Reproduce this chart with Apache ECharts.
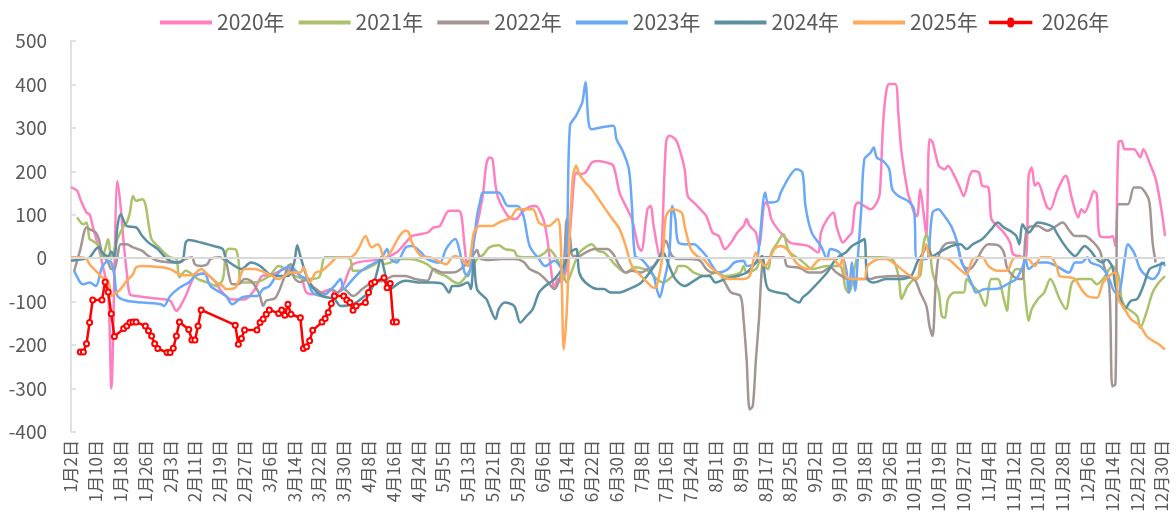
<!DOCTYPE html>
<html><head><meta charset="utf-8">
<script src="https://cdn.jsdelivr.net/npm/echarts@6/dist/echarts.min.js"></script>
<style>html,body{margin:0;padding:0;background:#fff}#c{width:1176px;height:525px}</style>
</head><body><div id="c"></div>
<script>
const FONT = '"Noto Sans CJK SC","Noto Sans",sans-serif';
const monthLengths = [31,29,31,30,31,30,31,31,30,31,30,31];
const skippedDays = ['1月1日','4月4日','5月1日','5月2日','5月3日','10月1日','10月2日','10月3日','10月4日','10月5日','10月6日','10月7日'];
const categories = [];
for (let m = 0; m < 12; m++) for (let d = 1; d <= monthLengths[m]; d++) {
  const s = (m + 1) + '月' + d + '日';
  if (!skippedDays.includes(s)) categories.push(s);
}
const seriesNames = ['2020年','2021年','2022年','2023年','2024年','2025年','2026年'];
const seriesColors = ['#ff80c0','#a9c26b','#a39593','#6aa8f8','#5b90a3','#ffaa5a','#ff0000'];

const s2020 = [['1月2日',163],['1月4日',155],['1月5日',136],['1月7日',105],['1月8日',101],['1月9日',74],['1月11日',21],['1月12日',-10],['1月14日',-80],['1月15日',-300],['1月17日',178],['1月18日',120],['1月19日',36],['1月20日',-33],['1月21日',-83],['1月23日',-87],['1月31日',-94],['2月3日',-98],['2月5日',-121],['2月6日',-114],['2月8日',-87],['2月11日',-40],['2月14日',-35],['2月17日',-50],['2月20日',-80],['2月23日',-95],['2月27日',-95],['3月1日',-75],['3月4日',-40],['3月6日',-40],['3月11日',-25],['3月16日',-40],['3月18日',-79],['3月21日',-83],['3月26日',-71],['3月27日',-87],['3月30日',-60],['4月2日',-14],['4月12日',-2],['4月17日',13],['4月20日',36],['4月22日',51],['4月27日',59],['4月29日',71],['5月4日',74],['5月7日',109],['5月10日',109],['5月11日',97],['5月12日',28],['5月13日',-18],['5月14日',-10],['5月15日',40],['5月17日',110],['5月18日',151],['5月19日',215],['5月20日',232],['5月21日',228],['5月22日',167],['5月23日',136],['5月26日',97],['5月28日',90],['5月29日',92],['5月31日',109],['6月3日',120],['6月4日',120],['6月6日',97],['6月7日',74],['6月8日',28],['6月9日',-33],['6月10日',-71],['6月11日',-48],['6月12日',-55],['6月14日',-20],['6月15日',60],['6月17日',197],['6月18日',194],['6月20日',197],['6月22日',220],['6月24日',224],['6月27日',220],['6月29日',213],['7月1日',151],['7月3日',120],['7月5日',90],['7月7日',28],['7月8日',17],['7月10日',113],['7月11日',120],['7月12日',74],['7月14日',-2],['7月16日',267],['7月17日',282],['7月19日',274],['7月20日',259],['7月22日',205],['7月23日',143],['7月25日',128],['7月27日',113],['7月29日',97],['7月31日',59],['8月2日',51],['8月4日',21],['8月6日',36],['8月8日',59],['8月10日',74],['8月11日',90],['8月12日',74],['8月14日',59],['8月15日',28],['8月17日',128],['8月18日',120],['8月19日',90],['8月21日',67],['8月23日',51],['8月25日',36],['8月28日',32],['8月31日',28],['9月3日',13],['9月4日',59],['9月6日',90],['9月8日',105],['9月9日',74],['9月10日',51],['9月11日',36],['9月13日',51],['9月14日',59],['9月15日',120],['9月16日',128],['9月18日',120],['9月20日',113],['9月22日',128],['9月23日',151],['9月24日',305],['9月25日',382],['9月26日',401],['9月28日',401],['9月29日',328],['9月30日',243],['10月9日',151],['10月10日',128],['10月11日',105],['10月12日',97],['10月13日',159],['10月14日',110],['10月15日',51],['10月16日',274],['10月17日',267],['10月19日',213],['10月21日',205],['10月22日',213],['10月24日',190],['10月26日',159],['10月27日',143],['10月29日',190],['10月30日',201],['11月1日',197],['11月2日',167],['11月4日',163],['11月5日',90],['11月7日',74],['11月9日',59],['11月11日',36],['11月12日',9],['11月14日',5],['11月16日',0],['11月17日',190],['11月18日',209],['11月19日',167],['11月20日',174],['11月22日',136],['11月23日',117],['11月24日',113],['11月26日',151],['11月28日',182],['11月29日',190],['12月1日',136],['12月3日',94],['12月4日',113],['12月5日',105],['12月7日',136],['12月8日',155],['12月9日',147],['12月10日',51],['12月13日',48],['12月14日',51],['12月15日',28],['12月16日',267],['12月17日',270],['12月18日',251],['12月21日',251],['12月23日',232],['12月24日',251],['12月26日',220],['12月28日',182],['12月30日',105],['12月31日',51]];

const s2021 = [['1月4日',94],['1月6日',78],['1月7日',82],['1月8日',44],['1月9日',40],['1月11日',28],['1月12日',-2],['1月13日',20],['1月14日',44],['1月15日',-2],['1月16日',20],['1月17日',44],['1月19日',74],['1月20日',82],['1月21日',105],['1月22日',143],['1月23日',132],['1月25日',136],['1月26日',124],['1月27日',80],['1月28日',44],['1月30日',28],['2月1日',13],['2月3日',2],['2月5日',-2],['2月6日',-44],['2月8日',-29],['2月12日',-48],['2月15日',-56],['2月18日',-64],['2月20日',-48],['2月21日',13],['2月22日',22],['2月24日',21],['2月25日',-2],['2月26日',-56],['3月1日',-56],['3月6日',-41],['3月9日',-18],['3月14日',-40],['3月18日',-48],['3月22日',-44],['3月24日',2],['3月28日',2],['4月1日',-2],['4月2日',-29],['4月5日',-29],['4月10日',-14],['4月12日',-2],['4月13日',-14],['4月15日',-10],['4月18日',-2],['4月21日',-2],['4月27日',-14],['4月30日',-33],['5月6日',-41],['5月8日',-52],['5月10日',-58],['5月14日',-25],['5月16日',-2],['5月18日',8],['5月20日',25],['5月23日',30],['5月25日',21],['5月28日',17],['5月29日',5],['6月1日',2],['6月4日',2],['6月7日',13],['6月8日',21],['6月10日',8],['6月12日',-18],['6月13日',-41],['6月14日',-56],['6月15日',-41],['6月17日',-2],['6月18日',13],['6月20日',25],['6月22日',32],['6月24日',17],['6月26日',13],['6月28日',-2],['6月30日',-18],['7月3日',-33],['7月6日',-21],['7月9日',-25],['7月11日',-33],['7月13日',-48],['7月15日',-56],['7月17日',-48],['7月19日',-33],['7月20日',-18],['7月22日',-18],['7月25日',-33],['7月29日',-41],['8月1日',-33],['8月4日',-41],['8月9日',-33],['8月10日',-18],['8月11日',-33],['8月14日',-25],['8月15日',-10],['8月16日',-2],['8月17日',-18],['8月18日',-25],['8月19日',13],['8月21日',36],['8月22日',48],['8月23日',55],['8月24日',28],['8月25日',13],['8月28日',-2],['8月30日',-14],['9月1日',-25],['9月6日',-18],['9月10日',-18],['9月12日',-71],['9月13日',-79],['9月15日',-18],['9月16日',2],['9月23日',2],['9月27日',-2],['9月29日',-41],['9月30日',-94],['10月8日',-79],['10月9日',-64],['10月11日',-48],['10月13日',-41],['10月14日',28],['10月15日',55],['10月16日',28],['10月17日',-33],['10月19日',-79],['10月20日',-133],['10月21日',-137],['10月22日',-94],['10月24日',-79],['10月27日',-79],['10月28日',-48],['10月30日',-64],['11月1日',-79],['11月3日',-110],['11月5日',-48],['11月7日',-48],['11月9日',-94],['11月10日',-121],['11月11日',-56],['11月13日',-25],['11月15日',-29],['11月16日',-94],['11月17日',-144],['11月18日',-117],['11月20日',-94],['11月22日',-79],['11月24日',-48],['11月27日',-94],['11月29日',-117],['12月1日',-56],['12月3日',-48],['12月7日',-48],['12月9日',-60],['12月11日',-48],['12月13日',-25],['12月14日',-18],['12月16日',-41],['12月17日',-94],['12月18日',-110],['12月22日',-133],['12月23日',-160],['12月25日',-125],['12月27日',-79],['12月29日',-56],['12月31日',-41]];

const s2022 = [['1月3日',-30],['1月5日',20],['1月7日',71],['1月8日',67],['1月10日',59],['1月11日',44],['1月12日',13],['1月14日',-10],['1月15日',-25],['1月16日',-25],['1月17日',5],['1月18日',32],['1月20日',32],['1月22日',25],['1月25日',17],['1月27日',5],['1月30日',-6],['2月5日',-10],['2月8日',-2],['2月10日',2],['2月11日',-14],['2月13日',-18],['2月15日',-14],['2月16日',-2],['2月19日',2],['2月21日',-10],['2月22日',-41],['2月23日',-60],['2月25日',-60],['2月27日',-48],['2月29日',-52],['3月2日',-71],['3月3日',-87],['3月4日',-110],['3月5日',-98],['3月8日',-91],['3月11日',-40],['3月12日',-18],['3月13日',-14],['3月14日',-45],['3月16日',-55],['3月18日',-50],['3月20日',-65],['3月24日',-83],['3月26日',-71],['3月28日',-79],['3月30日',-71],['4月2日',-87],['4月6日',-71],['4月9日',-56],['4月13日',-52],['4月16日',-41],['4月20日',-41],['4月23日',-48],['4月27日',-52],['4月29日',-25],['5月5日',-33],['5月8日',-33],['5月10日',-29],['5月14日',-2],['5月16日',19],['5月17日',0],['5月20日',-4],['5月24日',-2],['5月28日',-2],['5月31日',-8],['6月2日',-25],['6月5日',-35],['6月7日',-48],['6月8日',-56],['6月10日',-71],['6月12日',-41],['6月13日',-18],['6月14日',90],['6月15日',50],['6月16日',5],['6月18日',5],['6月20日',13],['6月23日',21],['6月27日',21],['6月29日',9],['7月1日',-18],['7月3日',-33],['7月5日',-29],['7月8日',-33],['7月10日',-25],['7月12日',-18],['7月14日',5],['7月16日',40],['7月17日',21],['7月18日',5],['7月20日',-2],['7月24日',-2],['7月27日',-6],['7月29日',-25],['7月31日',-33],['8月2日',-33],['8月4日',-56],['8月6日',-79],['8月9日',-87],['8月10日',-140],['8月11日',-233],['8月12日',-348],['8月13日',-340],['8月14日',-233],['8月15日',-140],['8月16日',-18],['8月17日',2],['8月20日',2],['8月23日',2],['8月24日',-18],['8月27日',-21],['8月29日',-25],['8月31日',-33],['9月4日',-33],['9月7日',-21],['9月9日',-33],['9月13日',-48],['9月20日',-48],['9月22日',-44],['9月29日',-41],['10月11日',-48],['10月13日',-79],['10月15日',-110],['10月16日',-156],['10月17日',-179],['10月18日',-60],['10月19日',5],['10月21日',32],['10月24日',36],['10月25日',28],['10月27日',-18],['10月29日',-25],['10月31日',-8],['11月2日',19],['11月4日',32],['11月7日',30],['11月9日',13],['11月10日',-21],['11月12日',-41],['11月14日',-48],['11月15日',-48],['11月16日',51],['11月17日',71],['11月20日',74],['11月23日',63],['11月25日',70],['11月28日',82],['11月30日',65],['12月2日',51],['12月5日',51],['12月8日',36],['12月10日',17],['12月11日',-10],['12月13日',-64],['12月14日',-295],['12月15日',-290],['12月16日',124],['12月19日',124],['12月21日',163],['12月23日',163],['12月25日',147],['12月26日',128],['12月27日',36],['12月28日',-10]];

const s2023 = [['1月3日',-29],['1月5日',-56],['1月6日',-60],['1月8日',-56],['1月10日',-64],['1月12日',-21],['1月14日',-6],['1月15日',-10],['1月16日',-40],['1月17日',-87],['1月20日',-98],['1月25日',-102],['1月31日',-106],['2月1日',-110],['2月3日',-87],['2月6日',-68],['2月9日',-56],['2月11日',-41],['2月14日',-35],['2月16日',-64],['2月21日',-87],['2月23日',-106],['2月26日',-91],['2月29日',-87],['3月2日',-87],['3月4日',-71],['3月6日',-64],['3月9日',-33],['3月12日',-21],['3月14日',-25],['3月16日',-41],['3月18日',-48],['3月20日',-79],['3月23日',-87],['3月27日',-64],['3月29日',-48],['3月30日',-71],['4月1日',-56],['4月5日',-33],['4月8日',-18],['4月12日',-2],['4月14日',21],['4月15日',0],['4月17日',-10],['4月20日',25],['4月22日',28],['4月25日',13],['4月27日',-2],['5月4日',-10],['5月6日',21],['5月9日',44],['5月10日',28],['5月12日',-33],['5月13日',-41],['5月14日',-18],['5月16日',97],['5月17日',130],['5月18日',151],['5月23日',151],['5月26日',120],['5月29日',120],['5月31日',97],['6月2日',28],['6月5日',-2],['6月7日',-18],['6月10日',-6],['6月12日',-21],['6月13日',-33],['6月14日',28],['6月15日',305],['6月17日',328],['6月18日',343],['6月19日',359],['6月20日',405],['6月21日',313],['6月22日',297],['6月25日',301],['6月29日',305],['6月30日',274],['7月2日',247],['7月4日',205],['7月5日',120],['7月6日',5],['7月8日',-2],['7月10日',-18],['7月12日',-41],['7月13日',-71],['7月14日',-90],['7月15日',-64],['7月17日',5],['7月18日',120],['7月19日',90],['7月20日',36],['7月23日',32],['7月25日',32],['7月27日',21],['7月29日',5],['8月2日',-33],['8月5日',-25],['8月7日',-10],['8月10日',-6],['8月11日',-18],['8月14日',-10],['8月15日',28],['8月17日',151],['8月18日',128],['8月21日',132],['8月22日',151],['8月25日',190],['8月27日',205],['8月29日',197],['8月30日',120],['9月1日',59],['9月4日',28],['9月6日',-2],['9月7日',21],['9月10日',13],['9月12日',-20],['9月13日',-79],['9月14日',-10],['9月15日',-75],['9月16日',13],['9月17日',113],['9月18日',228],['9月20日',243],['9月21日',255],['9月22日',232],['9月24日',224],['9月26日',205],['9月27日',159],['9月29日',143],['10月9日',132],['10月11日',113],['10月12日',-2],['10月15日',-2],['10月17日',105],['10月19日',113],['10月20日',105],['10月23日',74],['10月25日',36],['10月26日',-2],['10月28日',-33],['10月30日',-64],['10月31日',-79],['11月3日',-71],['11月6日',-71],['11月8日',-68],['11月11日',-56],['11月13日',-48],['11月15日',-20],['11月16日',-2],['11月17日',-25],['11月20日',-10],['11月23日',-10],['11月26日',-18],['11月30日',-33],['12月2日',-10],['12月4日',-10],['12月6日',2],['12月7日',-10],['12月10日',-18],['12月12日',-33],['12月13日',-48],['12月15日',-79],['12月16日',-79],['12月18日',-2],['12月19日',32],['12月21日',13],['12月23日',-25],['12月25日',-41],['12月27日',-48],['12月29日',-33],['12月30日',-10],['12月31日',-18]];

const s2024 = [['1月2日',-6],['1月6日',-2],['1月8日',2],['1月10日',21],['1月11日',25],['1月12日',13],['1月14日',5],['1月15日',15],['1月16日',5],['1月17日',74],['1月18日',101],['1月20日',74],['1月23日',71],['1月25日',51],['1月27日',36],['1月30日',21],['2月2日',-2],['2月5日',-10],['2月7日',-5],['2月8日',36],['2月9日',42],['2月13日',36],['2月17日',28],['2月20日',21],['2月21日',-2],['2月23日',-14],['2月26日',-25],['2月29日',-10],['3月3日',-18],['3月6日',-37],['3月8日',-41],['3月12日',-41],['3月14日',-10],['3月15日',30],['3月16日',5],['3月18日',-41],['3月20日',-68],['3月23日',-87],['3月27日',-94],['3月29日',-110],['4月2日',-106],['4月6日',-91],['4月9日',-71],['4月11日',-25],['4月12日',2],['4月13日',-25],['4月15日',-71],['4月18日',-56],['4月20日',-52],['4月25日',-56],['4月29日',-56],['5月5日',-60],['5月7日',-79],['5月8日',-64],['5月10日',-64],['5月13日',-56],['5月14日',-71],['5月15日',-2],['5月16日',-71],['5月19日',-94],['5月20日',-110],['5月22日',-140],['5月23日',-117],['5月25日',-102],['5月28日',-110],['5月30日',-148],['6月1日',-133],['6月3日',-117],['6月5日',-79],['6月7日',-64],['6月10日',-48],['6月13日',-18],['6月15日',13],['6月17日',21],['6月18日',-33],['6月20日',-56],['6月24日',-71],['6月26日',-71],['6月28日',-79],['7月1日',-79],['7月4日',-71],['7月8日',-56],['7月13日',-10],['7月15日',13],['7月17日',-18],['7月19日',-48],['7月22日',-64],['7月25日',-52],['7月28日',-41],['7月30日',-41],['8月1日',-56],['8月4日',-48],['8月8日',-41],['8月11日',-33],['8月13日',-18],['8月15日',-2],['8月16日',5],['8月17日',-48],['8月18日',-71],['8月21日',-79],['8月24日',-83],['8月25日',-91],['8月28日',-102],['8月29日',-91],['8月31日',-79],['9月6日',-33],['9月8日',-10],['9月10日',5],['9月12日',13],['9月14日',28],['9月17日',40],['9月18日',44],['9月19日',-48],['9月21日',-56],['9月25日',-48],['9月29日',-48],['10月10日',-41],['10月12日',-10],['10月14日',13],['10月15日',28],['10月17日',5],['10月19日',13],['10月23日',28],['10月26日',32],['10月28日',21],['10月30日',32],['11月2日',44],['11月5日',67],['11月7日',82],['11月9日',71],['11月11日',63],['11月13日',51],['11月14日',32],['11月15日',78],['11月17日',59],['11月20日',82],['11月23日',78],['11月25日',71],['11月26日',59],['11月28日',36],['11月30日',17],['12月2日',5],['12月4日',21],['12月5日',28],['12月7日',17],['12月9日',-2],['12月11日',-10],['12月12日',-2],['12月14日',-20],['12月15日',-64],['12月17日',-102],['12月18日',-117],['12月20日',-98],['12月22日',-94],['12月24日',-64],['12月26日',-25],['12月28日',-18],['12月31日',-10]];

const s2025 = [['1月2日',2],['1月5日',2],['1月7日',-2],['1月8日',-14],['1月10日',-29],['1月12日',-44],['1月14日',-52],['1月15日',-87],['1月16日',-83],['1月18日',-71],['1月20日',-52],['1月22日',-37],['1月23日',-21],['1月25日',-18],['1月31日',-21],['2月3日',-25],['2月5日',-33],['2月7日',-39],['2月10日',-39],['2月13日',-25],['2月15日',-37],['2月18日',-56],['2月20日',-64],['2月21日',-71],['2月24日',-68],['2月27日',-25],['3月1日',-25],['3月7日',-41],['3月9日',-48],['3月13日',-33],['3月16日',-33],['3月17日',-21],['3月19日',-56],['3月21日',-33],['3月23日',-29],['3月26日',-10],['3月28日',2],['4月1日',2],['4月3日',13],['4月5日',25],['4月7日',51],['4月9日',25],['4月11日',32],['4月12日',21],['4月13日',-2],['4月15日',13],['4月18日',51],['4月20日',63],['4月21日',59],['4月22日',36],['4月25日',5],['4月28日',2],['5月4日',-8],['5月6日',-14],['5月8日',2],['5月9日',5],['5月11日',-2],['5月13日',-16],['5月15日',60],['5月16日',71],['5月17日',74],['5月21日',74],['5月23日',82],['5月27日',94],['5月29日',113],['6月3日',113],['6月5日',82],['6月8日',74],['6月11日',90],['6月12日',40],['6月13日',-210],['6月14日',-117],['6月15日',74],['6月16日',190],['6月17日',213],['6月18日',194],['6月20日',174],['6月22日',159],['6月25日',128],['6月28日',97],['7月1日',67],['7月3日',28],['7月5日',-18],['7月8日',-41],['7月10日',-56],['7月12日',-68],['7月13日',-64],['7月15日',13],['7月16日',97],['7月18日',113],['7月21日',105],['7月22日',74],['7月24日',21],['7月26日',5],['7月28日',-2],['7月30日',-18],['8月1日',-30],['8月5日',-48],['8月10日',-48],['8月12日',-41],['8月14日',13],['8月15日',-2],['8月17日',-18],['8月20日',21],['8月22日',28],['8月24日',21],['8月27日',-10],['8月29日',-21],['8月31日',-25],['9月4日',-2],['9月8日',-2],['9月10日',-18],['9月11日',2],['9月12日',-41],['9月15日',-48],['9月18日',-48],['9月19日',-18],['9月23日',-2],['9月25日',-2],['9月28日',-14],['10月9日',-37],['10月12日',-48],['10月13日',-14],['10月15日',32],['10月16日',5],['10月18日',2],['10月22日',-2],['10月25日',-21],['10月27日',-33],['10月28日',-37],['10月30日',-2],['11月2日',2],['11月4日',-18],['11月7日',-29],['11月10日',-29],['11月12日',-2],['11月15日',2],['11月17日',-2],['11月19日',-18],['11月21日',2],['11月24日',2],['11月26日',-18],['11月27日',-41],['11月30日',-44],['12月2日',-48],['12月4日',-71],['12月6日',-87],['12月9日',-91],['12月11日',-56],['12月13日',-41],['12月15日',-33],['12月16日',-94],['12月18日',-117],['12月20日',-140],['12月23日',-156],['12月25日',-179],['12月27日',-190],['12月29日',-198],['12月31日',-210]];

const s2026 = [['1月5日',-216],['1月6日',-216],['1月7日',-197],['1月8日',-148],['1月9日',-96],['1月12日',-96],['1月13日',-55],['1月14日',-78],['1月15日',-128],['1月16日',-180],['1月19日',-162],['1月20日',-156],['1月21日',-148],['1月22日',-147],['1月23日',-147],['1月26日',-156],['1月27日',-167],['1月28日',-179],['1月29日',-197],['1月30日',-208],['2月2日',-217],['2月3日',-217],['2月4日',-207],['2月5日',-179],['2月6日',-147],['2月9日',-164],['2月10日',-188],['2月11日',-188],['2月12日',-156],['2月13日',-119],['2月24日',-154],['2月25日',-198],['2月26日',-185],['2月27日',-165],['3月2日',-165],['3月3日',-148],['3月4日',-140],['3月5日',-129],['3月6日',-119],['3月9日',-127],['3月10日',-119],['3月11日',-131],['3月12日',-106],['3月13日',-129],['3月16日',-137],['3月17日',-208],['3月18日',-204],['3月19日',-190],['3月20日',-166],['3月23日',-147],['3月24日',-139],['3月25日',-125],['3月26日',-104],['3月27日',-87],['3月30日',-87],['3月31日',-96],['4月1日',-102],['4月2日',-120],['4月3日',-110],['4月7日',-102],['4月8日',-79],['4月9日',-58],['4月10日',-55],['4月13日',-45],['4月14日',-68],['4月15日',-58],['4月16日',-147],['4月17日',-147]];

const allData = [s2020, s2021, s2022, s2023, s2024, s2025, s2026];

const series = allData.map((d, k) => {
  const isLast = k === allData.length - 1;
  const s = {
    name: seriesNames[k],
    type: 'line',
    data: d,
    smooth: isLast ? false : 0.3,
    symbol: isLast ? 'emptyCircle' : 'none',
    symbolSize: 5,
    showSymbol: isLast,
    showAllSymbol: true,
    lineStyle: { width: 2.5, color: seriesColors[k] },
    itemStyle: { color: seriesColors[k], borderWidth: 1.5 },
    z: isLast ? 5 : 2,
    emphasis: { disabled: true }
  };
  if (k === 0) {
    s.markLine = {
      silent: true, symbol: ['none', 'none'], label: { show: false },
      lineStyle: { color: '#d9d9d9', width: 2, type: 'solid' },
      emphasis: { disabled: true },
      data: [{ yAxis: 0 }]
    };
  }
  return s;
});

const legendText = { fontSize: 21, color: '#595959', fontFamily: FONT };
const chart = echarts.init(document.getElementById('c'));
chart.setOption({
  animation: false,
  color: seriesColors,
  textStyle: { fontFamily: FONT },
  legend: [
    { top: 7, left: 155, itemWidth: 52, itemHeight: 4, itemGap: 14, icon: 'rect',
      textStyle: legendText, data: seriesNames.slice(0, 6) },
    { top: 7, left: 984, itemWidth: 52, itemHeight: 10, textStyle: legendText,
      icon: 'path://M0,3H22A4,4,0,0,1,30,3H52V7H30A4,4,0,0,1,22,7H0Z',
      data: seriesNames.slice(6) }
  ],
  grid: { left: 71, right: 11, top: 41, bottom: 93 },
  xAxis: {
    type: 'category', data: categories, boundaryGap: false,
    axisLine: { show: false, onZero: false }, axisTick: { show: false },
    axisLabel: { interval: 7, rotate: 90, fontSize: 17, color: '#595959', margin: 8, fontFamily: FONT },
    splitLine: { show: false }
  },
  yAxis: {
    type: 'value', min: -400, max: 500, interval: 100,
    axisLine: { show: true, lineStyle: { color: '#d9d9d9', width: 1.5 } },
    axisTick: { show: true, inside: true, length: 5, lineStyle: { color: '#d9d9d9', width: 1.5 } },
    axisLabel: { fontSize: 19, color: '#595959', margin: 24, fontFamily: FONT },
    splitLine: { show: false }
  },
  series: series
});
</script></body></html>
